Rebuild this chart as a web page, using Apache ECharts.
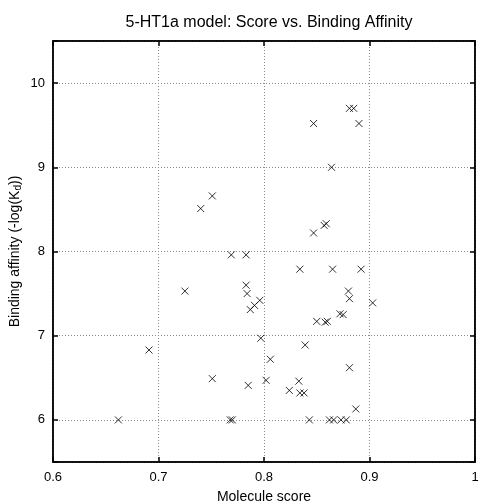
<!DOCTYPE html>
<html>
<head>
<meta charset="utf-8">
<script src="https://cdn.jsdelivr.net/npm/echarts@6/dist/echarts.min.js"></script>
<style>
  html, body { margin: 0; padding: 0; background: #fff; }
  #chart { width: 479px; height: 502px; }
</style>
</head>
<body>
<div id="chart"></div>
<script>
// 数据: molecule score vs binding affinity
const scores = [
  0.751, 0.740, 0.881, 0.885, 0.847, 0.890, 0.864, 0.857, 0.859, 0.847,
  0.769, 0.783, 0.725, 0.783, 0.784, 0.787, 0.791, 0.796, 0.797, 0.691,
  0.751, 0.785, 0.662, 0.768, 0.770, 0.834, 0.865, 0.892, 0.880, 0.881,
  0.903, 0.872, 0.875, 0.850, 0.858, 0.860, 0.839, 0.806, 0.881, 0.802,
  0.833, 0.824, 0.834, 0.838, 0.887, 0.843, 0.862, 0.866, 0.873, 0.878
];
const affinities = [
  8.66, 8.51, 9.70, 9.70, 9.52, 9.52, 9.00, 8.31, 8.33, 8.22,
  7.96, 7.96, 7.53, 7.60, 7.50, 7.31, 7.36, 7.42, 6.97, 6.83,
  6.49, 6.41, 6.00, 6.00, 6.00, 7.79, 7.79, 7.79, 7.53, 7.44,
  7.39, 7.26, 7.25, 7.17, 7.16, 7.17, 6.89, 6.72, 6.62, 6.47,
  6.46, 6.35, 6.32, 6.32, 6.13, 6.00, 6.00, 6.00, 6.00, 6.00
];

let myChart = echarts.init(document.getElementById('chart'));

let points = scores.map(function (s, i) { return [s, affinities[i]]; });

const font = 'Liberation Sans, Arial, Helvetica, sans-serif';
const gridLine = { show: true, lineStyle: { color: '#8a8a8a', type: [1, 2], width: 1 } };

let option = {
  animation: false,
  backgroundColor: '#fff',
  title: {
    text: '5-HT1a model: Score vs. Binding Affinity',
    left: 264,
    textAlign: 'center',
    top: 10,
    textStyle: { fontFamily: font, fontSize: 16, fontWeight: 'normal', color: '#000' }
  },
  grid: {
    left: 53, right: 4, top: 41, bottom: 40,
    outerBoundsMode: 'none',
    show: true, borderColor: '#000', borderWidth: 1.5
  },
  xAxis: [
    {
      type: 'value', min: 0.6, max: 1.0, interval: 0.1,
      name: 'Molecule score', nameLocation: 'middle', nameGap: 28,
      nameMoveOverlap: false,
      nameTextStyle: { fontFamily: font, fontSize: 14, color: '#000' },
      axisLine: { lineStyle: { color: '#000', width: 1.5 } },
      axisTick: { inside: true, length: 5, lineStyle: { color: '#000', width: 1.5 } },
      axisLabel: { fontFamily: font, fontSize: 13, color: '#000', margin: 9 },
      splitLine: gridLine
    },
    {
      type: 'value', position: 'top', min: 0.6, max: 1.0, interval: 0.1,
      axisLine: { lineStyle: { color: '#000', width: 1.5 } },
      axisTick: { inside: true, length: 5, lineStyle: { color: '#000', width: 1.5 } },
      axisLabel: { show: false }, splitLine: { show: false }
    }
  ],
  yAxis: [
    {
      type: 'value', min: 5.5, max: 10.5, splitNumber: 5,
      name: 'Binding affinity (-log(K{sub|d}))', nameLocation: 'middle', nameGap: 30,
      nameMoveOverlap: false,
      nameTextStyle: {
        fontFamily: font, fontSize: 14, color: '#000',
        rich: { sub: { fontFamily: font, fontSize: 10, color: '#000', padding: [6, 0, 0, 0] } }
      },
      axisLine: { lineStyle: { color: '#000', width: 1.5 } },
      axisTick: { inside: true, length: 5, lineStyle: { color: '#000', width: 1.5 } },
      axisLabel: {
        fontFamily: font, fontSize: 13, color: '#000', margin: 8,
        formatter: function (v) { return Number.isInteger(v) ? String(v) : ''; }
      },
      splitLine: gridLine
    },
    {
      type: 'value', position: 'right', min: 5.5, max: 10.5, splitNumber: 5,
      axisLine: { lineStyle: { color: '#000', width: 1.5 } },
      axisTick: { inside: true, length: 5, lineStyle: { color: '#000', width: 1.5 } },
      axisLabel: { show: false }, splitLine: { show: false }
    }
  ],
  series: [
    {
      type: 'scatter',
      data: points,
      symbol: 'path://M0,0L10,10M10,0L0,10',
      symbolSize: 7,
      itemStyle: { color: 'none', borderColor: '#000', borderWidth: 1 }
    }
  ]
};

myChart.setOption(option);
</script>
</body>
</html>
